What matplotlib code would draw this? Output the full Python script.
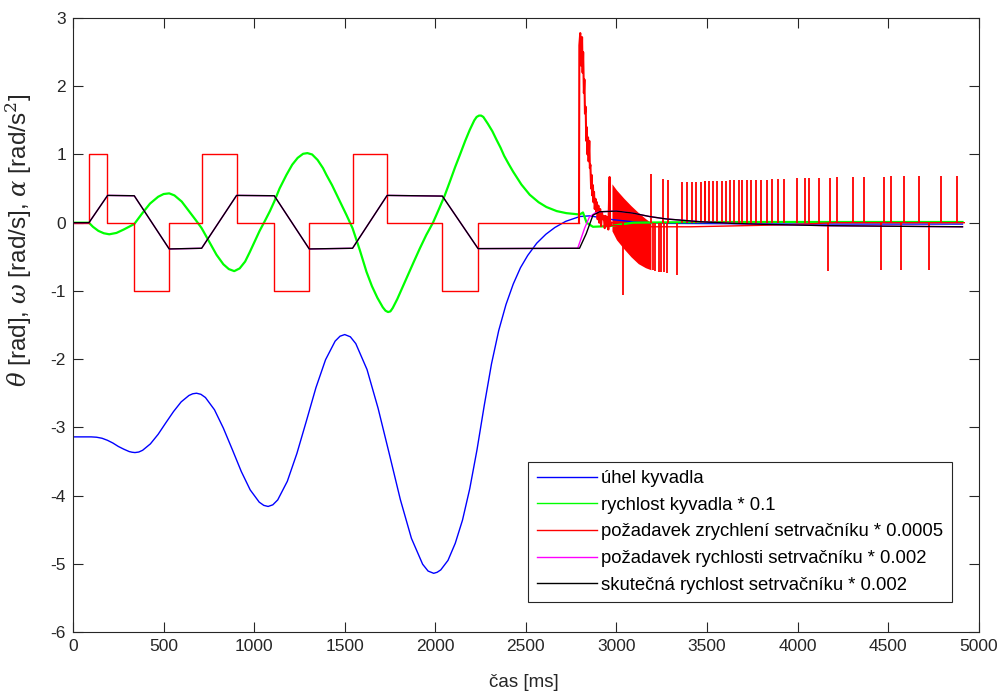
import numpy as np
import matplotlib
matplotlib.use("Agg")
import matplotlib.pyplot as plt

plt.rcParams['font.family'] = ['Liberation Sans', 'DejaVu Sans']
plt.rcParams['mathtext.fontset'] = 'dejavuserif'
plt.rcParams['axes.unicode_minus'] = False

# pendulum angle [rad]
angle_t = [0, 100, 130, 160, 190, 220, 250, 280, 310, 326, 342, 363, 384, 427, 470, 512, 555, 597,
           640, 661, 682, 706, 731, 781, 830, 880, 929, 978, 1028, 1053, 1077, 1103, 1130, 1183,
           1236, 1289, 1341, 1394, 1447, 1474, 1500, 1531, 1561, 1623, 1684, 1746, 1807, 1868, 1930,
           1960, 1991, 2010, 2030, 2070, 2110, 2150, 2190, 2230, 2270, 2310, 2350, 2390, 2430, 2470,
           2510, 2560, 2610, 2660, 2720, 2797, 2850, 2900, 2962, 3100, 3274, 4000, 4910]
angle_v = [-3.14, -3.14, -3.145, -3.16, -3.19, -3.23, -3.28, -3.32, -3.355, -3.365, -3.37, -3.362,
           -3.337, -3.243, -3.102, -2.935, -2.768, -2.627, -2.533, -2.508, -2.50, -2.516, -2.563,
           -2.743, -3.012, -3.33, -3.648, -3.917, -4.097, -4.144, -4.16, -4.136, -4.064, -3.791,
           -3.382, -2.90, -2.418, -2.009, -1.736, -1.664, -1.64, -1.673, -1.773, -2.153, -2.72,
           -3.39, -4.06, -4.627, -5.007, -5.107, -5.14, -5.125, -5.09, -4.95, -4.70, -4.36, -3.90,
           -3.33, -2.68, -2.07, -1.58, -1.20, -0.90, -0.66, -0.48, -0.30, -0.17, -0.07, 0.02, 0.09,
           0.10, 0.08, 0.05, 0.01, -0.01, -0.02, -0.02]

# pendulum speed * 0.1
pend_t = [0, 88, 110, 140, 170, 200, 240, 280, 338, 380, 425, 470, 500, 531, 560, 600, 640, 680,
          710, 750, 792, 830, 860, 890, 920, 950, 976, 1030, 1060, 1087, 1111, 1140, 1178, 1210,
          1240, 1270, 1294, 1320, 1350, 1380, 1399, 1430, 1470, 1510, 1543, 1583, 1620, 1650, 1680,
          1710, 1725, 1739, 1752, 1765, 1790, 1840, 1880, 1914, 1950, 1987, 2020, 2052, 2080, 2110,
          2135, 2165, 2190, 2215, 2228, 2241, 2253, 2265, 2290, 2315, 2337, 2360, 2380, 2405, 2429,
          2475, 2521, 2570, 2613, 2670, 2723, 2797, 2815, 2835, 2870, 2962, 3040, 3091, 3500, 4910]
pend_v = [0.0, 0.0, -0.06, -0.12, -0.155, -0.17, -0.15, -0.10, -0.02, 0.13, 0.28, 0.38, 0.42,
          0.43, 0.40, 0.31, 0.17, 0.03, -0.08, -0.27, -0.47, -0.61, -0.68, -0.71, -0.67, -0.57,
          -0.43, -0.12, 0.03, 0.17, 0.31, 0.50, 0.70, 0.85, 0.95, 1.01, 1.02, 1.00, 0.92, 0.80,
          0.70, 0.55, 0.33, 0.11, -0.08, -0.40, -0.72, -0.93, -1.10, -1.24, -1.29, -1.31, -1.30,
          -1.25, -1.12, -0.82, -0.58, -0.38, -0.18, 0.0, 0.20, 0.40, 0.60, 0.82, 0.99, 1.20, 1.36,
          1.50, 1.55, 1.57, 1.57, 1.55, 1.45, 1.34, 1.22, 1.10, 0.98, 0.86, 0.75, 0.56, 0.41, 0.30,
          0.23, 0.17, 0.14, 0.12, 0.15, 0.0, -0.06, -0.05, -0.02, 0.0, 0.01, 0.01]

# flywheel acceleration request * 0.0005 : square wave part
acc_step_t = [0, 88, 186, 338, 531, 710, 903, 1111, 1304, 1543, 1734, 2039, 2236, 2793]
acc_step_v = [0, 1, 0, -1, 0, 1, 0, -1, 0, 1, 0, -1, 0, 0]

# burst after the swing-up
acc_burst_t = [2793, 2795, 2800, 2803, 2806, 2810, 2813, 2816, 2820, 2823, 2826, 2830, 2833, 2836,
               2840, 2843, 2846, 2850, 2853, 2856, 2860, 2863, 2866, 2870, 2873, 2876, 2880, 2884,
               2888, 2892, 2896, 2900, 2905, 2910, 2915, 2920, 2925, 2930, 2935, 2940, 2945, 2950,
               2955, 2962, 2965, 2975]
acc_burst_v = [0.0, 2.60, 2.78, 2.40, 2.30, 2.72, 2.20, 2.50, 1.90, 2.10, 1.60, 1.70, 1.20, 1.40,
               1.00, 1.25, 0.90, 1.20, 0.80, 0.85, 0.50, 0.70, 0.40, 0.55, 0.30, 0.45, 0.20, 0.35,
               0.15, 0.30, 0.05, 0.25, 0.0, 0.20, -0.05, 0.15, 0.05, 0.10, -0.08, 0.10, -0.05, 0.08,
               -0.10, 0.67, -0.05, 0.0]

# dense oscillation band (envelopes)
acc_band_t = [2975, 3000, 3040, 3080, 3120, 3160, 3190]
acc_band_hi = [0.57, 0.48, 0.36, 0.25, 0.15, 0.06, 0.0]
acc_band_lo = [-0.12, -0.25, -0.38, -0.50, -0.60, -0.66, -0.69]

# baseline after burst
acc_base_t = [2975, 3200, 3410, 3950, 4200, 4920]
acc_base_v = [-0.04, -0.06, -0.06, -0.03, 0.0, 0.0]

# single spikes
spike_up_t = [2962, 3188, 3256, 3287, 3363, 3390, 3418, 3440, 3468, 3486, 3491, 3510, 3532, 3556,
              3583, 3606, 3624, 3651, 3675, 3693, 3721, 3743, 3771, 3795, 3832, 3859, 3889, 3927,
              3997, 4043, 4060, 4120, 4179, 4220, 4308, 4369, 4479, 4516, 4585, 4670, 4791, 4881]
spike_up_v = [0.67, 0.72, 0.64, 0.63, 0.60, 0.60, 0.60, 0.60, 0.60, 0.61, 0.61, 0.61, 0.61, 0.61,
              0.61, 0.61, 0.62, 0.62, 0.62, 0.62, 0.63, 0.63, 0.63, 0.63, 0.63, 0.64, 0.64, 0.64,
              0.65, 0.66, 0.66, 0.66, 0.66, 0.67, 0.67, 0.67, 0.67, 0.68, 0.68, 0.68, 0.68, 0.69]
spike_dn_t = [3035, 3200, 3214, 3233, 3247, 3260, 3278, 3334, 4166, 4462, 4573, 4727]
spike_dn_v = [-1.06, -0.70, -0.71, -0.72, -0.72, -0.73, -0.74, -0.77, -0.71, -0.70, -0.70, -0.70]

# flywheel speed request * 0.002
req_t = [0, 88, 191, 338, 531, 710, 903, 1111, 1304, 1543, 1734, 2039, 2236, 2786, 2824, 2850,
         2880, 2907, 2999, 3091, 3183, 3274, 3458, 3642, 3826, 4175, 4910]
req_v = [0, 0, 0.40, 0.395, -0.385, -0.375, 0.40, 0.395, -0.385, -0.375, 0.40, 0.39, -0.38, -0.375,
         -0.08, 0.08, 0.14, 0.16, 0.17, 0.14, 0.09, 0.055, 0.015, -0.01, -0.025, -0.044, -0.06]

# real flywheel speed * 0.002
real_t = [0, 88, 191, 338, 531, 710, 903, 1111, 1304, 1543, 1734, 2039, 2236, 2796, 2833, 2870,
          2907, 2999, 3091, 3183, 3274, 3458, 3642, 3826, 4175, 4910]
real_v = [0, 0, 0.40, 0.395, -0.385, -0.375, 0.40, 0.395, -0.385, -0.375, 0.40, 0.39, -0.38, -0.375,
          -0.16, 0.11, 0.16, 0.17, 0.14, 0.09, 0.055, 0.015, -0.01, -0.025, -0.044, -0.06]

labels = ['úhel kyvadla',
          'rychlost kyvadla * 0.1',
          'požadavek zrychlení setrvačníku * 0.0005',
          'požadavek rychlosti setrvačníku * 0.002',
          'skutečná rychlost setrvačníku * 0.002']

fig = plt.figure(figsize=(10.07, 6.97), dpi=100)
ax = fig.add_axes([0.0725, 0.0933, 0.8995, 0.8808])

lw = 1.0
red = (1, 0, 0)
h1, = ax.plot(angle_t, angle_v, color=(0, 0, 1), lw=lw)
h2, = ax.plot(pend_t, pend_v, color=(0, 1, 0), lw=1.6)
h3, = ax.step(acc_step_t, acc_step_v, where='post', color=red, lw=lw)
ax.plot(acc_burst_t, acc_burst_v, color=red, lw=1.5)
ax.fill_between(acc_band_t, acc_band_lo, acc_band_hi, color=red, lw=0)
ax.plot(acc_base_t, acc_base_v, color=red, lw=lw)
ax.vlines(spike_up_t, 0, spike_up_v, color=red, lw=1.3)
ax.vlines(spike_dn_t, 0, spike_dn_v, color=red, lw=1.3)
h4, = ax.plot(req_t, req_v, color=(1, 0, 1), lw=lw)
h5, = ax.plot(real_t, real_v, color='k', lw=lw)

ax.set_xlim(0, 5000)
ax.set_ylim(-6, 3)
ax.set_xticks(np.arange(0, 5001, 500))
ax.set_yticks(np.arange(-6, 4, 1))
ax.tick_params(direction='in', length=7, width=0.8, top=True, right=True,
               labelsize=12.5, colors='#262626', pad=5)
for s in ax.spines.values():
    s.set_color('#262626')
    s.set_linewidth(0.8)

ax.set_xlabel('čas [ms]', fontsize=13.5, color='#262626')
ax.set_ylabel(r'$\theta$ [rad], $\omega$ [rad/s], $\alpha$ [rad/s$^2$]', fontsize=17.5, color='#262626')
ax.xaxis.set_label_coords(0.498, -0.068)
ax.yaxis.set_label_coords(-0.043, 0.637)

leg = ax.legend([h1, h2, h3, h4, h5], labels, loc='lower right', bbox_to_anchor=(0.970, 0.049),
                borderaxespad=0, fontsize=13.3, handlelength=3.3, handletextpad=0.2,
                labelspacing=0.52, fancybox=False, framealpha=1, edgecolor='#262626',
                borderpad=0.45)
leg.get_frame().set_linewidth(0.8)
for ln in leg.get_lines():
    ln.set_linewidth(1.0)

fig.savefig('out.png', dpi=100)
